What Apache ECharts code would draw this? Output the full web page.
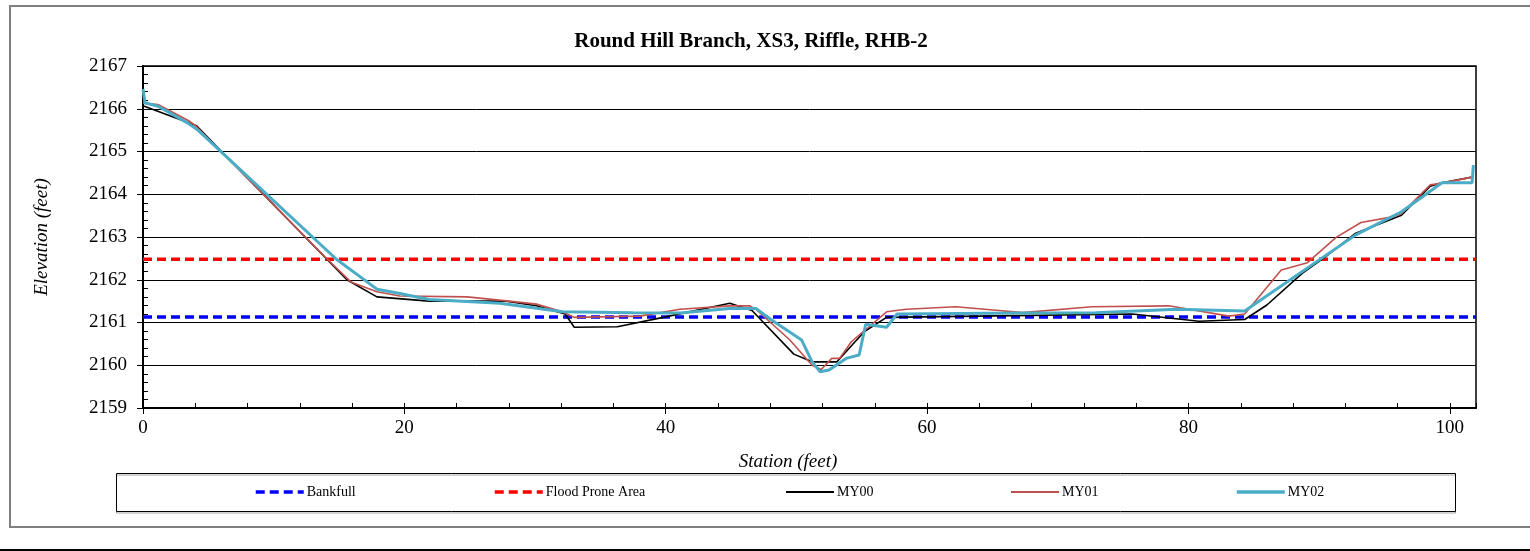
<!DOCTYPE html>
<html>
<head>
<meta charset="utf-8">
<script src="https://cdn.jsdelivr.net/npm/echarts@6/dist/echarts.min.js"></script>
<style>
  html, body { margin: 0; padding: 0; background: #fff; }
  #chart { width: 1530px; height: 551px; }
</style>
</head>
<body>
<div id="chart"></div>
<script>
// Cross-section survey, Round Hill Branch XS3 (riffle)
const chartTitle = 'Round Hill Branch, XS3, Riffle, RHB-2';
const xTitle = 'Station (feet)';
const yTitle = 'Elevation (feet)';

const stationMin = 0;
const stationMax = 102;
const elevMin = 2159;
const elevMax = 2167;

const bankfullElev = 2161.13;
const floodProneElev = 2162.48;

const my00Station = [0, 4.1, 15.6, 17.9, 21.9, 27.8, 30.1, 32.3, 33.0, 36.3, 39.8, 44.9, 46.6, 49.8, 51.2, 53.1, 55.2, 56.9, 64.0, 75.7, 80.8, 84.3, 86.0, 88.7, 90.5, 92.8, 96.3, 98.5, 99.4, 101.7];
const my00Elev = [2166.07, 2165.60, 2162.00, 2161.60, 2161.50, 2161.50, 2161.39, 2161.20, 2160.89, 2160.90, 2161.12, 2161.45, 2161.28, 2160.26, 2160.08, 2160.08, 2160.79, 2161.12, 2161.15, 2161.20, 2161.03, 2161.07, 2161.41, 2162.15, 2162.54, 2163.09, 2163.51, 2164.19, 2164.27, 2164.40];

const my01Station = [0, 1.15, 3.6, 4.1, 13.9, 15.9, 17.9, 19.65, 24.8, 28.0, 30.1, 32.1, 33.0, 38.0, 41.1, 44.9, 46.4, 46.9, 49.5, 51.2, 51.9, 52.7, 53.3, 54.2, 55.4, 56.9, 58.4, 62.2, 65.5, 67.3, 72.6, 78.5, 83.1, 84.3, 87.1, 89.1, 91.3, 93.2, 95.6, 96.3, 98.5, 99.4, 101.7];
const my01Elev = [2166.13, 2166.10, 2165.70, 2165.58, 2162.54, 2161.95, 2161.72, 2161.62, 2161.60, 2161.50, 2161.43, 2161.25, 2161.12, 2161.15, 2161.31, 2161.39, 2161.39, 2161.31, 2160.59, 2160.00, 2159.90, 2160.16, 2160.16, 2160.55, 2160.86, 2161.25, 2161.31, 2161.37, 2161.28, 2161.23, 2161.37, 2161.39, 2161.15, 2161.20, 2162.23, 2162.40, 2162.99, 2163.34, 2163.47, 2163.55, 2164.22, 2164.26, 2164.40];

const my02Station = [0, 0.15, 1.15, 3.4, 4.2, 14.8, 17.9, 19.65, 21.9, 27.3, 32.1, 37.5, 41.1, 44.9, 46.9, 48.1, 50.4, 51.2, 51.8, 52.5, 53.8, 54.8, 55.3, 56.9, 57.7, 67.3, 72.9, 79.1, 84.3, 92.8, 96.3, 99.4, 101.7, 101.8];
const my02Elev = [2166.46, 2166.14, 2166.06, 2165.67, 2165.50, 2162.48, 2161.78, 2161.68, 2161.54, 2161.45, 2161.25, 2161.23, 2161.22, 2161.33, 2161.33, 2161.06, 2160.59, 2160.08, 2159.85, 2159.89, 2160.16, 2160.24, 2160.96, 2160.89, 2161.20, 2161.22, 2161.23, 2161.31, 2161.27, 2163.05, 2163.59, 2164.27, 2164.27, 2164.68];

const pairs = (xs, ys) => xs.map((x, i) => [x, ys[i]]);
const serif = '"Liberation Serif", "Times New Roman", serif';

const chart = echarts.init(document.getElementById('chart'), null, { renderer: 'canvas' });

// one legend box per entry so each sits at its own slot
function legendAt(name, left, lineWidth, dash) {
  return {
    data: [name],
    left: left,
    top: 485,
    padding: 0,
    itemWidth: 48,
    itemHeight: 14,
    itemGap: 4,
    itemStyle: { opacity: 0 },
    lineStyle: { width: lineWidth, type: dash || 'solid' },
    textStyle: { fontFamily: serif, fontSize: 14, color: '#000', padding: [0, 0, 0, -2] }
  };
}

chart.setOption({
  animation: false,
  backgroundColor: '#fff',
  grid: {
    left: 143, top: 66, right: 54, bottom: 143,
    show: true, borderColor: '#000', borderWidth: 1.5, backgroundColor: 'transparent'
  },
  legend: [
    legendAt('Bankfull', 254, 3.5, [9, 5]),
    legendAt('Flood Prone Area', 493, 3.5, [9, 5]),
    legendAt('MY00', 785, 2),
    legendAt('MY01', 1010, 2),
    legendAt('MY02', 1235, 3.5)
  ],
  xAxis: [
    {
      type: 'value', min: stationMin, max: stationMax, interval: 20,
      axisLine: { show: true, lineStyle: { color: '#000', width: 2 } },
      axisTick: { show: true, inside: false, length: 6, lineStyle: { color: '#000' } },
      axisLabel: { margin: 11, showMaxLabel: false, fontFamily: serif, fontSize: 19, color: '#000' },
      splitLine: { show: false }
    },
    {
      type: 'value', min: stationMin, max: stationMax, interval: 4, position: 'bottom',
      axisLine: { show: false },
      axisTick: { show: true, inside: true, length: 5, lineStyle: { color: '#000' } },
      axisLabel: { show: false },
      splitLine: { show: false }
    }
  ],
  yAxis: [
    {
      type: 'value', min: elevMin, max: elevMax, interval: 1,
      axisLine: { show: true, lineStyle: { color: '#000', width: 2 } },
      axisTick: { show: true, inside: false, length: 6, lineStyle: { color: '#000' } },
      axisLabel: {
        margin: 16, fontFamily: serif, fontSize: 19, color: '#000',
        formatter: v => String(Math.round(v))
      },
      splitLine: { show: true, lineStyle: { color: '#000', width: 1 } }
    },
    {
      type: 'value', min: elevMin, max: elevMax, interval: 0.2, position: 'left',
      axisLine: { show: false },
      axisTick: { show: true, inside: true, length: 5, lineStyle: { color: '#000' } },
      axisLabel: { show: false },
      splitLine: { show: false }
    }
  ],
  series: [
    {
      name: 'Bankfull', type: 'line', symbol: 'none', silent: true,
      data: [[stationMin, bankfullElev], [stationMax, bankfullElev]],
      lineStyle: { color: '#0000FF', width: 3.5, type: [9, 5] },
      itemStyle: { color: '#0000FF' }
    },
    {
      name: 'Flood Prone Area', type: 'line', symbol: 'none', silent: true,
      data: [[stationMin, floodProneElev], [stationMax, floodProneElev]],
      lineStyle: { color: '#FF0000', width: 3.5, type: [9, 5] },
      itemStyle: { color: '#FF0000' }
    },
    {
      name: 'MY00', type: 'line', symbol: 'none',
      data: pairs(my00Station, my00Elev),
      lineStyle: { color: '#000000', width: 1.6 },
      itemStyle: { color: '#000000' }
    },
    {
      name: 'MY01', type: 'line', symbol: 'none',
      data: pairs(my01Station, my01Elev),
      lineStyle: { color: '#C0504D', width: 1.6 },
      itemStyle: { color: '#C0504D' }
    },
    {
      name: 'MY02', type: 'line', symbol: 'none',
      data: pairs(my02Station, my02Elev),
      lineStyle: { color: '#4BACC6', width: 3 },
      itemStyle: { color: '#4BACC6' }
    }
  ],
  graphic: [
    {
      type: 'rect', silent: true, z: -10,
      shape: { x: 10, y: 6, width: 1530, height: 521 },
      style: { fill: 'none', stroke: '#7f7f7f', lineWidth: 2 }
    },
    {
      type: 'line', silent: true,
      shape: { x1: 0, y1: 550, x2: 1530, y2: 550 },
      style: { stroke: '#000', lineWidth: 2 }
    },
    {
      type: 'rect', silent: true, z: -5,
      shape: { x: 116.5, y: 473.5, width: 1339, height: 38 },
      style: { fill: 'none', stroke: '#000', lineWidth: 1, shadowColor: 'rgba(0,0,0,0.35)', shadowOffsetY: 1.5 }
    },
    {
      type: 'text', silent: true,
      style: {
        text: chartTitle, x: 751, y: 42, textAlign: 'center', textVerticalAlign: 'middle',
        font: 'bold 21px ' + serif, fill: '#000'
      }
    },
    {
      type: 'text', silent: true,
      style: {
        text: xTitle, x: 788, y: 462, textAlign: 'center', textVerticalAlign: 'middle',
        font: 'italic 19px ' + serif, fill: '#000'
      }
    },
    {
      type: 'text', silent: true, x: 42, y: 237, rotation: Math.PI / 2,
      style: {
        text: yTitle, x: 0, y: 0, textAlign: 'center', textVerticalAlign: 'middle',
        font: 'italic 19px ' + serif, fill: '#000'
      }
    }
  ]
});
</script>
</body>
</html>
